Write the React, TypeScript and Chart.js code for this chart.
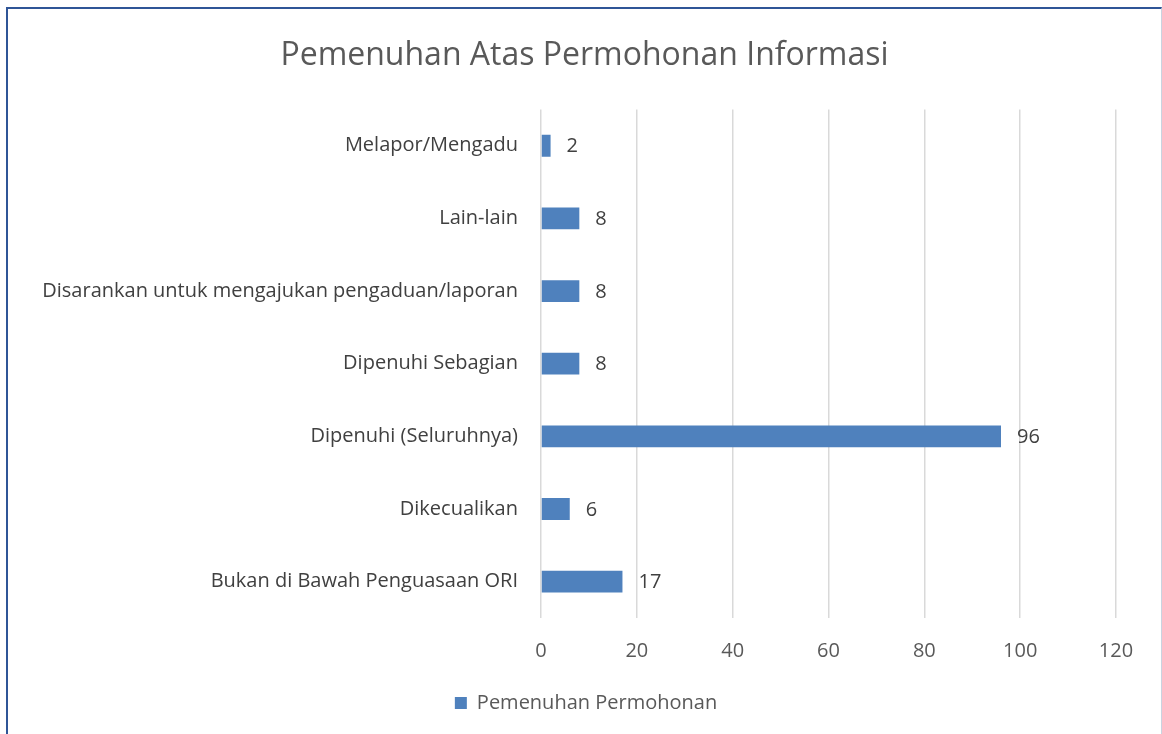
import React, { useEffect, useRef } from "react";
import { Chart, registerables } from "chart.js";

Chart.register(...registerables);

const categories = [
  "Melapor/Mengadu",
  "Lain-lain",
  "Disarankan untuk mengajukan pengaduan/laporan",
  "Dipenuhi Sebagian",
  "Dipenuhi (Seluruhnya)",
  "Dikecualikan",
  "Bukan di Bawah Penguasaan ORI",
];
const values = [2, 8, 8, 8, 96, 6, 17];
const seriesName = "Pemenuhan Permohonan";
const chartTitle = "Pemenuhan Atas Permohonan Informasi";
const xTicks = [0, 20, 40, 60, 80, 100, 120];

const FONT = "'Open Sans', 'Noto Sans', sans-serif";

const dataLabels = {
  id: "dataLabels",
  afterLayout(chart: any) {
    const t = chart.titleBlock;
    if (t) {
      t.left = 53;
      t.right = 1116;
    }
    const l = chart.legend;
    if (l) {
      l.left = 56;
      l.right = 1116;
    }
  },
  afterDatasetsDraw(chart: any) {
    const ctx = chart.ctx;
    const meta = chart.getDatasetMeta(0);
    ctx.save();
    ctx.fillStyle = "#404040";
    ctx.font = `20px ${FONT}`;
    ctx.textAlign = "left";
    ctx.textBaseline = "middle";
    meta.data.forEach((bar: any, i: number) => {
      ctx.fillText(String(values[i]), bar.x + 16, bar.y + 1);
    });
    ctx.restore();
  },
};

export default function App() {
  const ref = useRef<HTMLCanvasElement>(null);
  useEffect(() => {
    document.body.style.margin = "0";
    const chart = new Chart(ref.current!, {
      type: "bar",
      data: {
        labels: categories,
        datasets: [
          {
            label: seriesName,
            data: values,
            backgroundColor: "#4F81BD",
            borderColor: "#4F81BD",
            borderWidth: 0,
            barPercentage: 0.3,
            categoryPercentage: 1,
          },
        ],
      },
      options: {
        indexAxis: "y",
        animation: false,
        responsive: false,
        maintainAspectRatio: false,
        layout: { padding: { left: 0, right: 46, top: 0, bottom: 11 } },
        scales: {
          x: {
            min: 0,
            max: 120,
            afterBuildTicks(scale: any) {
              scale.ticks = xTicks.map((v) => ({ value: v }));
            },
            grid: { color: "#D9D9D9", lineWidth: 1.5, drawTicks: false },
            border: { display: false },
            ticks: {
              color: "#595959",
              font: { family: FONT, size: 20 },
              padding: 21,
            },
          },
          y: {
            grid: { display: false },
            border: { display: false },
            afterFit(scale: any) {
              scale.width = 541;
            },
            ticks: {
              color: "#404040",
              font: { family: FONT, size: 20 },
              padding: 15,
            },
          },
        },
        plugins: {
          title: {
            display: true,
            text: chartTitle,
            color: "#595959",
            font: { family: FONT, size: 32, weight: "normal" },
            padding: { top: 37, bottom: 34 },
          },
          legend: {
            position: "bottom",
            labels: {
              color: "#595959",
              font: { family: FONT, size: 20 },
              boxWidth: 12,
              boxHeight: 12,
              padding: 9,
            },
          },
          tooltip: { enabled: false },
        },
      },
      plugins: [dataLabels],
    });
    return () => chart.destroy();
  }, []);
  return (
    <div style={{ position: "relative", width: 1162, height: 734, overflow: "hidden", background: "#fff" }}>
      <canvas ref={ref} width={1162} height={734} style={{ display: "block" }} />
      <div
        style={{
          position: "absolute",
          left: 6,
          top: 7,
          width: 1153,
          height: 740,
          borderLeft: "2px solid #2F5597",
          borderTop: "2px solid #2F5597",
          borderRight: "1px solid #C9D3E0",
          pointerEvents: "none",
        }}
      />
    </div>
  );
}
